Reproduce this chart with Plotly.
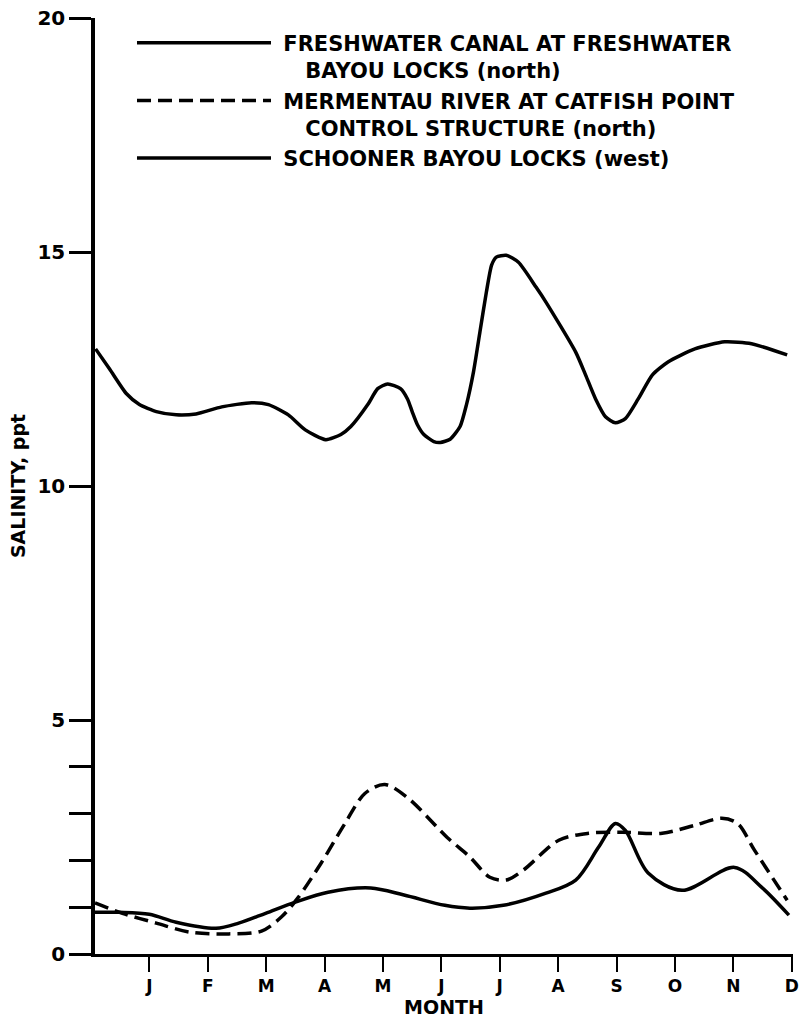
import plotly.graph_objects as go

# month positions: 0 = start (December of prior year), 1 = J ... 12 = D
month_ticks = [1, 2, 3, 4, 5, 6, 7, 8, 9, 10, 11, 12]
month_labels = ["J", "F", "M", "A", "M", "J", "J", "A", "S", "O", "N", "D"]

y_tickvals = [0, 1, 2, 3, 4, 5, 10, 15, 20]
y_ticktext = ["0", "", "", "", "", "5", "10", "15", "20"]

# Freshwater Canal at Freshwater Bayou Locks (north) - upper solid curve
fw_month = [0.08, 0.32, 0.61, 0.83, 1.12, 1.46, 1.80, 2.24, 2.75, 3.04, 3.38, 3.67, 4.02,
            4.28, 4.45, 4.74, 4.91, 5.08, 5.30, 5.42, 5.50, 5.59, 5.70, 5.87, 5.98,
            6.15, 6.32, 6.43, 6.55, 6.66, 6.77, 6.86, 6.94, 7.11, 7.32, 7.62, 7.79,
            8.30, 8.47, 8.64, 8.81, 8.98, 9.15, 9.37, 9.61, 9.88, 10.34, 10.85, 11.31, 11.92]
fw_sal = [12.93, 12.50, 11.97, 11.74, 11.59, 11.52, 11.54, 11.69, 11.78, 11.74, 11.52, 11.20, 10.99,
          11.10, 11.27, 11.74, 12.08, 12.18, 12.08, 11.86, 11.59, 11.31, 11.10, 10.95, 10.93,
          11.00, 11.27, 11.74, 12.44, 13.29, 14.14, 14.72, 14.89, 14.93, 14.78, 14.25, 13.93,
          12.86, 12.37, 11.86, 11.48, 11.35, 11.44, 11.86, 12.37, 12.65, 12.93, 13.08, 13.04, 12.80]

# Mermentau River at Catfish Point Control Structure (north) - dashed curve
mr_month = [0.07, 0.54, 1.12, 1.68, 2.36, 2.92, 3.26, 3.55, 3.94, 4.35, 4.69, 5.03,
            5.42, 6.10, 6.49, 6.83, 7.11, 7.40, 8.01, 8.52, 9.10, 9.78, 10.34, 10.80,
            11.07, 11.36, 11.92]
mr_sal = [1.09, 0.87, 0.66, 0.47, 0.43, 0.49, 0.79, 1.21, 1.94, 2.79, 3.43, 3.62,
          3.34, 2.49, 2.07, 1.64, 1.58, 1.79, 2.43, 2.58, 2.60, 2.58, 2.75, 2.90,
          2.79, 2.22, 1.15]

# Schooner Bayou Locks (west) - lower solid curve
sb_month = [0.07, 0.49, 1.00, 1.46, 2.14, 2.53, 2.99, 3.50, 4.06, 4.79, 5.36, 6.06,
            6.49, 7.06, 7.79, 8.30, 8.69, 8.98, 9.15, 9.54, 10.12, 11.02, 11.48, 11.95]
sb_sal = [0.89, 0.89, 0.85, 0.68, 0.55, 0.66, 0.87, 1.11, 1.32, 1.41, 1.26, 1.04,
          0.98, 1.04, 1.30, 1.58, 2.28, 2.79, 2.64, 1.73, 1.36, 1.85, 1.43, 0.83]

NB = "\u00a0"
names = [
    NB + "FRESHWATER CANAL AT FRESHWATER<br>" + NB * 4 + "BAYOU LOCKS (north)",
    NB + "MERMENTAU RIVER AT CATFISH POINT<br>" + NB * 4 + "CONTROL STRUCTURE (north)",
    NB + "SCHOONER BAYOU LOCKS (west)",
]

FONT = "DejaVu Sans"

fig = go.Figure()
fig.add_trace(go.Scatter(x=fw_month, y=fw_sal, mode="lines", name=names[0],
                         line=dict(color="black", width=3.5, shape="spline", smoothing=0.6)))
fig.add_trace(go.Scatter(x=mr_month, y=mr_sal, mode="lines", name=names[1],
                         line=dict(color="black", width=3.5, shape="spline", smoothing=0.9,
                                   dash="14px,7px")))
fig.add_trace(go.Scatter(x=sb_month, y=sb_sal, mode="lines", name=names[2],
                         line=dict(color="black", width=3.5, shape="spline", smoothing=0.9)))

fig.update_layout(
    width=805, height=1022,
    margin=dict(l=95, r=6, t=15, b=68),
    paper_bgcolor="white", plot_bgcolor="white",
    font=dict(family=FONT, color="black", size=18, weight="bold"),
    showlegend=True,
    legend=dict(
        x=0.053, y=0.995, xanchor="left", yanchor="top",
        bgcolor="rgba(0,0,0,0)", borderwidth=0,
        font=dict(family=FONT, size=21, color="black", weight="bold"),
        itemwidth=134, valign="top", tracegroupgap=2,
    ),
)

fig.update_xaxes(
    range=[0.07, 12.02], tickvals=month_ticks, ticktext=month_labels,
    ticks="outside", ticklen=15, tickwidth=2, tickcolor="black",
    showline=True, linecolor="black", linewidth=3,
    showgrid=False, zeroline=False,
    tickfont=dict(family=FONT, size=17, color="black", weight="bold"),
    title=dict(text="MONTH", font=dict(family=FONT, size=19, color="black", weight="bold"),
               standoff=6),
)
fig.update_yaxes(
    range=[0, 20], tickvals=y_tickvals, ticktext=y_ticktext,
    ticks="outside", ticklen=22, tickwidth=2.5, tickcolor="black",
    showline=True, linecolor="black", linewidth=3.5,
    showgrid=False, zeroline=False,
    tickfont=dict(family=FONT, size=20, color="black", weight="bold"),
    title=dict(text="SALINITY, ppt", font=dict(family=FONT, size=19, color="black", weight="bold"),
               standoff=8),
)

fig.write_html("out.html")
